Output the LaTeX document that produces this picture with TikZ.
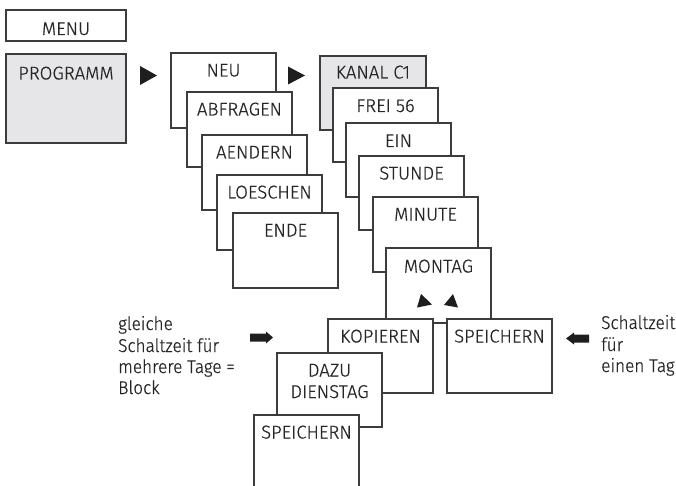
\documentclass[tikz,border=0pt]{standalone}
\usepackage{fontspec}
\setmainfont{Fira Sans}[UprightFont=* Light, UprightFeatures={FakeBold=0.6}]
\newfontfamily\sidefont{Fira Sans}[UprightFont=* Light, UprightFeatures={FakeBold=0.6}, FakeStretch=0.93]
\definecolor{linec}{HTML}{3C3C3C}
\definecolor{grayf}{HTML}{E6E6E8}
\definecolor{txt}{HTML}{262626}
\definecolor{arr}{HTML}{1E1E1E}
\begin{document}
\begin{tikzpicture}[x=1pt,y=-1pt,
  box/.style={draw=linec, line width=1.2pt, fill=white, inner sep=0pt, outer sep=0pt,
              anchor=north west, minimum width=105pt, minimum height=75pt},
  lbl/.style={anchor=base, inner sep=0pt, text=txt, font=\fontsize{18.5}{21.5}\selectfont},
  side/.style={lbl, anchor=base west, font=\sidefont\fontsize{18.5}{21.5}\selectfont},
  tri/.style={fill=arr}]
\useasboundingbox (0,0) rectangle (676,486);
\clip (0,0) rectangle (676,486);
% menu
\node[box, minimum width=120pt, minimum height=31pt] (menu) at (6,10) {};
\node[lbl] (menut) at ([yshift=-25pt]menu.north) {MENU};
\node[box, fill=grayf, minimum width=120pt, minimum height=89pt] (prog) at (6,54) {};
\node[lbl] (progt) at ([yshift=-25.5pt]prog.north) {PROGRAMM};
\fill[tri] (140,66) -- (157,75.5) -- (140,85) -- cycle;
% first stack
\node[box] (neu) at (171,53) {};
\node[lbl] (neut) at ([yshift=-23.5pt]neu.north) {NEU};
\node[box] (abf) at (187,92) {};
\node[lbl] (abft) at ([yshift=-23.5pt]abf.north) {ABFRAGEN};
\node[box] (aen) at (202,135) {};
\node[lbl] (aent) at ([yshift=-23.5pt]aen.north) {AENDERN};
\node[box] (loe) at (217,175) {};
\node[lbl] (loet) at ([yshift=-23.5pt]loe.north) {LOESCHEN};
\node[box] (ende) at (233,213) {};
\node[lbl] (endet) at ([yshift=-23.5pt]ende.north) {ENDE};
\fill[tri] (288,66.5) -- (305,75.5) -- (288,84.5) -- cycle;
% second stack
\node[box, fill=grayf, minimum width=106pt, minimum height=74pt] (kan) at (320,56) {};
\node[lbl] (kant) at ([yshift=-22.5pt]kan.north) {KANAL C1};
\node[box, minimum height=74pt] (frei) at (333,88) {};
\node[lbl] (freit) at ([yshift=-24pt]frei.north) {FREI 56};
\node[box, minimum height=74pt] (ein) at (346,123) {};
\node[lbl] (eint) at ([yshift=-24pt]ein.north) {EIN};
\node[box, minimum height=74pt] (std) at (359,156) {};
\node[lbl] (stdt) at ([yshift=-23.5pt]std.north) {STUNDE};
\node[box] (min) at (373,197) {};
\node[lbl] (mint) at ([yshift=-23.5pt]min.north) {MINUTE};
\node[box] (mon) at (386,248) {};
\node[lbl] (mont) at ([yshift=-24.5pt]mon.north) {MONTAG};
\fill[tri] (421,294) -- (432,304.5) -- (417,307.5) -- cycle;
\fill[tri] (453,294) -- (444,305) -- (458,307.5) -- cycle;
% bottom
\node[box, minimum height=74pt] (kop) at (328,319) {};
\node[lbl] (kopt) at ([yshift=-23.5pt]kop.north) {KOPIEREN};
\node[box, minimum height=74pt] (spr) at (447,319) {};
\node[lbl] (sprt) at ([yshift=-23.5pt]spr.north) {SPEICHERN};
\node[box, minimum height=74pt] (dazu) at (277,353) {};
\node[lbl] (dazut) at ([yshift=-23.5pt]dazu.north) {DAZU};
\node[lbl] (dazut2) at ([yshift=-45pt]dazu.north) {DIENSTAG};
\node[box, minimum height=80pt] (spb) at (254,415) {};
\node[lbl] (spbt) at ([yshift=-23.5pt]spb.north) {SPEICHERN};
% thick arrows
\fill[arr] (250,333.5) -- (266,333.5) -- (266,331.5) -- (273,337.5) -- (266,343.5) -- (266,341.5) -- (250,341.5) -- cycle;
\fill[arr] (589,334.5) -- (574,334.5) -- (574,332.5) -- (566,338.5) -- (574,344.5) -- (574,342.5) -- (589,342.5) -- cycle;
% side texts
\node[side] (l1) at (118,330) {gleiche};
\node[side] (l2) at (118,352) {Schaltzeit für};
\node[side] (l3) at (118,373) {mehrere Tage =};
\node[side] (l4) at (118,394) {Block};
\node[side] (r1) at (601,329) {Schaltzeit};
\node[side] (r2) at (601,351) {für};
\node[side] (r3) at (601,372) {einen Tag};
\end{tikzpicture}
\end{document}
